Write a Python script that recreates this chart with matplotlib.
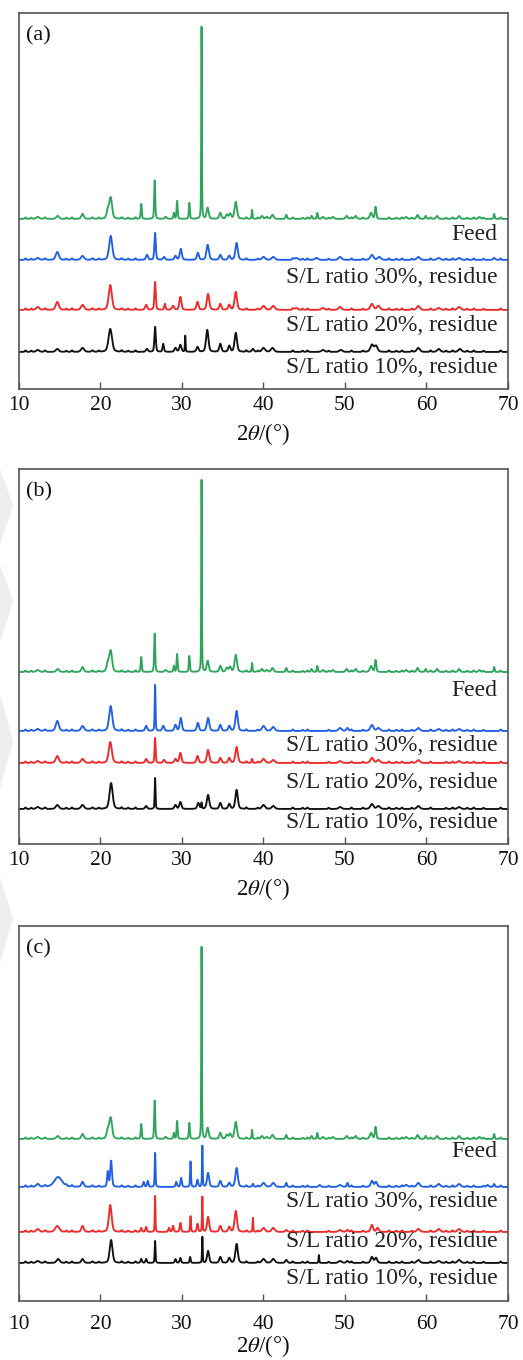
import numpy as np
import matplotlib
matplotlib.use("Agg")
import matplotlib.pyplot as plt
from matplotlib.patches import Polygon

plt.rcParams["font.family"] = ["Liberation Serif", "DejaVu Serif"]
plt.rcParams["mathtext.fontset"] = "stix"

# 2-theta scan range
two_theta = np.linspace(10, 70, 3001)

# Peak tables: (2theta, height, FWHM)
feed_peaks = [
    (12.3, 2, 0.45), (14.75, 3, 0.4), (17.8, 5, 0.35), (20.9, 8, 0.35),
    (21.25, 21, 0.4), (25.0, 15, 0.15), (26.65, 39, 0.15), (28.0, 2, 0.3),
    (29.0, 6, 0.15), (29.4, 18, 0.15), (30.9, 16, 0.15), (32.4, 192, 0.09),
    (33.15, 11, 0.3), (34.7, 6, 0.3), (35.5, 4, 0.3), (35.9, 5, 0.3),
    (36.6, 17, 0.35), (38.6, 9, 0.12), (39.8, 3, 0.3), (40.4, 2, 0.3),
    (41.1, 4, 0.35), (42.8, 4, 0.2), (45.9, 3, 0.2), (46.6, 6, 0.15),
    (47.3, 2, 0.3), (48.5, 2, 0.3), (50.2, 3, 0.3), (51.3, 3, 0.3),
    (53.2, 6, 0.35), (53.75, 12, 0.2), (57.5, 2, 0.3), (58.9, 4, 0.3),
    (59.9, 3, 0.2), (61.3, 3, 0.3), (64.0, 3, 0.3), (66.5, 2, 0.3),
    (68.3, 5, 0.15),
]

a_sl30_peaks = [
    (12.3, 2, 0.45), (14.7, 8, 0.45), (17.8, 4, 0.45), (21.25, 24, 0.45),
    (25.7, 5, 0.3), (26.7, 27, 0.2), (27.8, 3, 0.3), (29.2, 4, 0.3),
    (29.85, 11, 0.3), (31.95, 7, 0.3), (33.15, 15, 0.35), (34.7, 5, 0.3),
    (35.8, 4, 0.3), (36.7, 17, 0.35), (40.0, 3, 0.45), (41.2, 3, 0.45),
    (44.0, 2, 0.45), (46.5, 2, 0.45), (49.4, 3, 0.45), (53.3, 5, 0.45),
    (54.2, 3, 0.45), (59.0, 3, 0.45), (61.5, 2, 0.45), (64.0, 2, 0.45),
    (68.3, 2, 0.3),
]
a_sl20_peaks = [
    (12.3, 3, 0.45), (14.7, 8, 0.45), (17.8, 5, 0.45), (21.2, 25, 0.45),
    (25.6, 5, 0.3), (26.7, 28, 0.2), (27.9, 6, 0.2), (28.9, 4, 0.3),
    (29.8, 13, 0.3), (31.9, 8, 0.3), (33.2, 16, 0.35), (34.7, 6, 0.3),
    (35.8, 5, 0.3), (36.6, 18, 0.35), (40.0, 4, 0.45), (41.2, 4, 0.45),
    (44.0, 2, 0.45), (47.3, 2, 0.45), (49.4, 3, 0.45), (53.3, 6, 0.45),
    (54.1, 4, 0.45), (59.0, 4, 0.45), (61.5, 2, 0.45), (64.0, 3, 0.45),
]
a_sl10_peaks = [
    (12.3, 2, 0.45), (14.7, 3, 0.45), (17.8, 4, 0.45), (21.2, 23, 0.5),
    (25.7, 3, 0.3), (26.7, 25, 0.2), (27.7, 8, 0.2), (29.2, 4, 0.3),
    (29.8, 7, 0.3), (30.4, 16, 0.1), (31.9, 5, 0.3), (33.1, 22, 0.35),
    (34.7, 8, 0.3), (35.8, 6, 0.3), (36.6, 19, 0.35), (38.7, 3, 0.3),
    (40.0, 4, 0.45), (41.1, 4, 0.45), (47.3, 2, 0.45), (49.5, 2, 0.45),
    (53.3, 7, 0.45), (53.8, 6, 0.45), (59.0, 4, 0.45), (61.5, 3, 0.45),
    (64.1, 3, 0.45),
]

b_sl30_peaks = [
    (12.3, 2, 0.45), (14.7, 10, 0.45), (17.8, 5, 0.45), (21.25, 25, 0.45),
    (25.6, 5, 0.3), (26.7, 46, 0.12), (27.7, 5, 0.3), (29.2, 6, 0.3),
    (29.85, 13, 0.3), (31.95, 8, 0.3), (33.2, 13, 0.35), (34.7, 6, 0.3),
    (35.8, 5, 0.3), (36.7, 20, 0.35), (40.0, 5, 0.45), (41.2, 4, 0.45),
    (49.4, 3, 0.45), (50.3, 3, 0.3), (53.3, 6, 0.45), (54.1, 3, 0.45),
    (59.0, 3, 0.45), (61.5, 2, 0.45), (64.0, 2, 0.45),
]
b_sl20_peaks = [
    (12.3, 2, 0.45), (14.7, 7, 0.45), (17.8, 4, 0.45), (21.2, 21, 0.45),
    (25.6, 4, 0.3), (26.7, 25, 0.15), (27.8, 3, 0.3), (29.2, 4, 0.3),
    (29.8, 10, 0.3), (31.9, 7, 0.3), (33.2, 13, 0.35), (34.7, 5, 0.3),
    (35.8, 5, 0.3), (36.7, 16, 0.35), (38.6, 4, 0.15), (40.0, 4, 0.45),
    (41.2, 3, 0.45), (49.4, 2, 0.45), (53.3, 5, 0.45), (54.1, 3, 0.45),
    (59.0, 3, 0.45), (64.0, 2, 0.45),
]
b_sl10_peaks = [
    (12.3, 2, 0.45), (14.7, 4, 0.45), (17.8, 4, 0.45), (21.3, 26, 0.45),
    (25.6, 3, 0.3), (26.7, 31, 0.12), (29.2, 4, 0.3), (29.8, 7, 0.3),
    (32.0, 6, 0.3), (32.4, 6, 0.12), (33.2, 14, 0.35), (34.7, 6, 0.3),
    (35.8, 5, 0.3), (36.7, 19, 0.35), (40.0, 4, 0.45), (41.2, 3, 0.45),
    (49.4, 2, 0.45), (53.3, 5, 0.45), (54.1, 3, 0.45), (59.0, 3, 0.45),
    (64.0, 2, 0.45),
]

c_sl30_peaks = [
    (12.3, 3, 0.45), (14.8, 10, 1.1), (17.8, 5, 0.35), (20.9, 15, 0.2),
    (21.3, 26, 0.25), (25.3, 5, 0.2), (25.8, 6, 0.2), (26.7, 34, 0.12),
    (29.3, 5, 0.2), (29.9, 9, 0.2), (31.05, 26, 0.12), (31.9, 7, 0.2),
    (32.5, 41, 0.1), (33.2, 14, 0.3), (34.7, 6, 0.3), (35.8, 4, 0.3),
    (36.7, 19, 0.35), (38.7, 3, 0.2), (40.0, 4, 0.45), (41.2, 4, 0.45),
    (42.8, 4, 0.2), (46.9, 2, 0.3), (49.4, 2, 0.45), (50.3, 4, 0.2),
    (53.3, 6, 0.35), (53.8, 5, 0.35), (57.5, 2, 0.45), (59.0, 4, 0.45),
    (61.5, 3, 0.45), (64.0, 3, 0.45), (67.5, 2, 0.3), (68.3, 3, 0.2),
]
c_sl20_peaks = [
    (12.3, 3, 0.45), (14.7, 6, 0.6), (17.8, 6, 0.35), (21.2, 27, 0.4),
    (25.0, 4, 0.2), (25.6, 5, 0.2), (26.7, 36, 0.1), (28.4, 4, 0.2),
    (28.9, 6, 0.2), (29.8, 9, 0.2), (31.05, 16, 0.12), (31.9, 8, 0.2),
    (32.5, 35, 0.1), (33.2, 15, 0.3), (34.7, 6, 0.3), (35.8, 5, 0.3),
    (36.6, 21, 0.35), (38.7, 14, 0.1), (40.0, 4, 0.45), (41.2, 4, 0.45),
    (42.8, 2, 0.3), (49.4, 2, 0.45), (50.3, 2, 0.3), (53.3, 7, 0.35),
    (54.0, 4, 0.35), (59.0, 3, 0.45), (61.5, 3, 0.45), (64.0, 3, 0.45),
]
c_sl10_peaks = [
    (12.3, 2, 0.45), (14.8, 4, 0.45), (17.8, 4, 0.35), (21.3, 23, 0.4),
    (25.0, 4, 0.2), (25.6, 4, 0.2), (26.7, 22, 0.12), (29.2, 4, 0.2),
    (29.8, 5, 0.2), (31.0, 6, 0.15), (32.5, 26, 0.1), (33.2, 12, 0.3),
    (34.7, 6, 0.3), (35.8, 5, 0.3), (36.7, 19, 0.35), (40.0, 4, 0.45),
    (41.2, 4, 0.45), (42.8, 3, 0.3), (46.8, 8, 0.1), (49.4, 2, 0.45),
    (50.3, 2, 0.3), (53.3, 6, 0.35), (53.8, 5, 0.35), (59.0, 3, 0.45),
    (61.5, 2, 0.45), (64.0, 3, 0.45),
]

# Weak background reflections seen along every scan
minor_peaks = [
    (10.8, 1.5, 0.2), (11.5, 1.2, 0.2), (13.2, 1.5, 0.25), (15.8, 1.2, 0.2),
    (16.5, 1.5, 0.2), (19.0, 1.5, 0.25), (19.8, 1.2, 0.2), (22.6, 1.5, 0.2),
    (23.4, 1.2, 0.2), (24.3, 1.5, 0.2), (37.9, 1.5, 0.2), (39.3, 1.2, 0.2),
    (43.6, 1.5, 0.2), (44.8, 1.2, 0.2), (45.4, 1.5, 0.2), (48.0, 1.2, 0.2),
    (50.8, 1.5, 0.2), (52.2, 1.2, 0.2), (55.4, 1.5, 0.2), (56.3, 1.2, 0.2),
    (57.0, 1.5, 0.2), (58.2, 1.2, 0.2), (60.5, 1.5, 0.2), (62.4, 1.2, 0.2),
    (63.2, 1.5, 0.2), (65.0, 1.2, 0.2), (65.8, 1.5, 0.2), (67.0, 1.2, 0.2),
    (69.1, 1.5, 0.2),
]

series_names = ["S/L ratio 10%, residue", "S/L ratio 20%, residue",
                "S/L ratio 30%, residue", "Feed"]
series_colors = ["#111111", "#ee2a2a", "#1f5fe6", "#2ea55a"]

panels = [
    {"tag": "(a)", "peaks": [a_sl10_peaks, a_sl20_peaks, a_sl30_peaks, feed_peaks],
     "offsets": [0, 42, 92, 133], "label_y": [-16, 26, 74, 117], "ylim": (-37, 339)},
    {"tag": "(b)", "peaks": [b_sl10_peaks, b_sl20_peaks, b_sl30_peaks, feed_peaks],
     "offsets": [0, 46, 78, 137], "label_y": [-13, 27, 64, 119], "ylim": (-35, 340)},
    {"tag": "(c)", "peaks": [c_sl10_peaks, c_sl20_peaks, c_sl30_peaks, feed_peaks],
     "offsets": [0, 31, 76, 124], "label_y": [-16, 21, 61, 111], "ylim": (-38, 337)},
]


def pattern(x, peaks):
    """Sum of pseudo-Voigt profiles, each scaled to its peak height."""
    y = np.zeros_like(x)
    for pos, h, w in list(peaks) + minor_peaks:
        g = np.exp(-4 * np.log(2) * ((x - pos) / w) ** 2)
        lor = 1.0 / (1.0 + 4 * ((x - pos) / w) ** 2)
        y += h * (0.6 * g + 0.4 * lor)
    return y


fig = plt.figure(figsize=(5.23, 13.6), dpi=100)

# faint grey chevrons along the left margin
for pts in [
    [(0, 0.655), (0.025, 0.628), (0, 0.600)],
    [(0, 0.585), (0.025, 0.558), (0, 0.528)],
    [(0, 0.490), (0.025, 0.455), (0, 0.420)],
    [(0, 0.355), (0.025, 0.325), (0, 0.292)],
]:
    fig.add_artist(Polygon(pts, closed=True, transform=fig.transFigure,
                           facecolor="#eeeeee", edgecolor="none", zorder=0))

axes_rects = [
    [0.0363, 0.7140, 0.935, 0.2765],
    [0.0363, 0.3794, 0.935, 0.2757],
    [0.0363, 0.0434, 0.935, 0.2757],
]
tick_pads = [5, 5, 10]

for rect, panel, tpad in zip(axes_rects, panels, tick_pads):
    ax = fig.add_axes(rect)
    ax.patch.set_alpha(0)
    for peaks, off, ly, name, col in zip(panel["peaks"], panel["offsets"],
                                         panel["label_y"], series_names, series_colors):
        ax.plot(two_theta, pattern(two_theta, peaks) + off, color=col, lw=1.35)
        ax.text(0.979, ly, name, transform=ax.get_yaxis_transform(),
                ha="right", va="center", fontsize=17, color="#222222")
    ax.set_xlim(10, 70)
    ax.set_ylim(*panel["ylim"])
    ax.set_xticks(np.arange(10, 71, 10))
    ax.set_yticks([])
    ax.tick_params(axis="x", direction="in", length=5, width=1, labelsize=15.5,
                   colors="#555555", labelcolor="#111111", pad=tpad)
    for sp in ax.spines.values():
        sp.set_color("#555555")
        sp.set_linewidth(1.2)
    ax.text(0.015, 0.965, panel["tag"], transform=ax.transAxes, ha="left",
            va="top", fontsize=16, color="#111111")
    ax.set_xlabel(r"2$\theta$/(°)", fontsize=16.5, color="#111111", va="center")
    ax.xaxis.set_label_coords(0.5, -45 / 376)

fig.savefig("out.png", dpi=100)
